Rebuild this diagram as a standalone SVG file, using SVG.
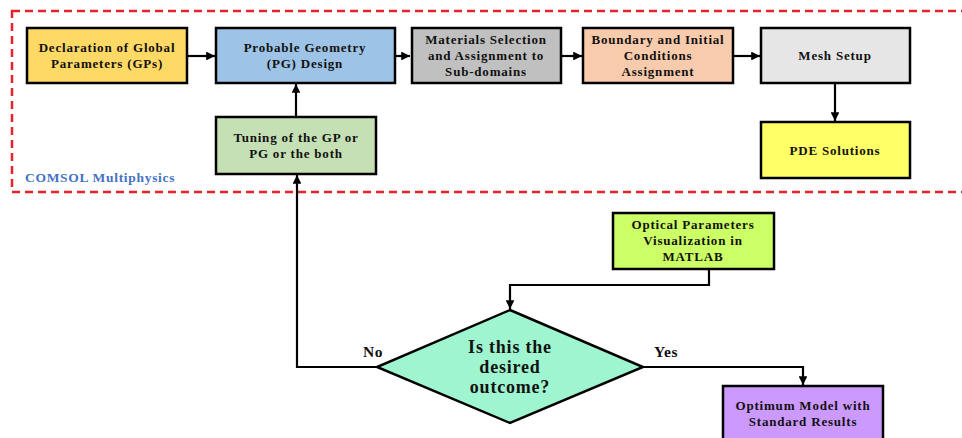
<svg xmlns="http://www.w3.org/2000/svg" width="962" height="438" viewBox="0 0 962 438">
<defs>
<marker id="arr" viewBox="0 0 10 10" refX="10" refY="5" markerWidth="4" markerHeight="4" orient="auto" markerUnits="strokeWidth">
<path d="M0,0 L10,5 L0,10 z" fill="#000"/>
</marker>
<style>
.box{stroke:#000;stroke-width:2.5}
.t{font-family:"Liberation Serif","Times New Roman",serif;font-weight:bold;font-size:13px;letter-spacing:0.8px;fill:#111;text-anchor:middle}
.big{font-size:18px;letter-spacing:0.8px}
.lbl{font-size:15.5px;letter-spacing:0.6px}
.con{fill:none;stroke:#000;stroke-width:2.2}
</style>
</defs>
<rect width="962" height="438" fill="#fff"/>
<g id="comsol-frame">
<rect x="12" y="11" width="960" height="181" fill="none" stroke="#e8222a" stroke-width="2.5" stroke-dasharray="8,5"/>
<text x="25" y="182" class="t" style="text-anchor:start;fill:#4472c4;font-size:13.5px;letter-spacing:0.7px">COMSOL Multiphysics</text>
</g>
<g id="connectors">
<path class="con" d="M187,56 H215" marker-end="url(#arr)"/>
<path class="con" d="M395,56 H410" marker-end="url(#arr)"/>
<path class="con" d="M561,56 H582" marker-end="url(#arr)"/>
<path class="con" d="M733,56 H760" marker-end="url(#arr)"/>
<path class="con" d="M835,83 V121" marker-end="url(#arr)"/>
<path class="con" d="M296,117 V84" marker-end="url(#arr)"/>
<path class="con" d="M377,367 H297 V175" marker-end="url(#arr)"/>
<path class="con" d="M709,269 V285 H510 V309" marker-end="url(#arr)"/>
<path class="con" d="M643,367 H803 V385" marker-end="url(#arr)"/>
</g>
<g id="n-declaration">
<rect class="box" x="27" y="28" width="160" height="55" fill="#ffd966"/>
<text class="t" x="107" y="52">Declaration of Global</text>
<text class="t" x="107" y="68">Parameters (GPs)</text>
</g>
<g id="n-pg-design">
<rect class="box" x="216" y="28" width="179" height="55" fill="#9dc3e6"/>
<text class="t" x="305" y="52">Probable Geometry</text>
<text class="t" x="305" y="68">(PG) Design</text>
</g>
<g id="n-materials">
<rect class="box" x="412" y="28" width="149" height="55" fill="#c0c0c0"/>
<text class="t" x="486" y="44">Materials Selection</text>
<text class="t" x="486" y="60">and Assignment to</text>
<text class="t" x="486" y="76">Sub-domains</text>
</g>
<g id="n-boundary">
<rect class="box" x="583" y="28" width="150" height="55" fill="#f8cbad"/>
<text class="t" x="658" y="44">Boundary and Initial</text>
<text class="t" x="658" y="60">Conditions</text>
<text class="t" x="658" y="76">Assignment</text>
</g>
<g id="n-mesh">
<rect class="box" x="761" y="28" width="149" height="55" fill="#e6e6e6"/>
<text class="t" x="835" y="60">Mesh Setup</text>
</g>
<g id="n-pde">
<rect class="box" x="761" y="122" width="149" height="56" fill="#ffff66"/>
<text class="t" x="835" y="155">PDE Solutions</text>
</g>
<g id="n-tuning">
<rect class="box" x="216" y="117" width="160" height="57" fill="#c5e0b4"/>
<text class="t" x="296" y="142">Tuning of the GP or</text>
<text class="t" x="296" y="158">PG or the both</text>
</g>
<g id="n-optical">
<rect class="box" x="613" y="213" width="161" height="56" fill="#ccff66"/>
<text class="t" x="693" y="229">Optical Parameters</text>
<text class="t" x="693" y="245">Visualization  in</text>
<text class="t" x="693" y="261">MATLAB</text>
</g>
<g id="n-decision">
<polygon class="box" points="510,310 643,367 510,423 377,367" fill="#9ff5cf"/>
<text class="t big" x="510" y="353">Is this the</text>
<text class="t big" x="510" y="373">desired</text>
<text class="t big" x="510" y="393">outcome?</text>
</g>
<g id="n-optimum">
<rect class="box" x="723" y="386" width="160" height="58" fill="#cc99ff"/>
<text class="t" x="803" y="410">Optimum Model with</text>
<text class="t" x="803" y="426">Standard  Results</text>
</g>
<g id="labels">
<text class="t lbl" x="373" y="357">No</text>
<text class="t lbl" x="666" y="357">Yes</text>
</g>
</svg>
